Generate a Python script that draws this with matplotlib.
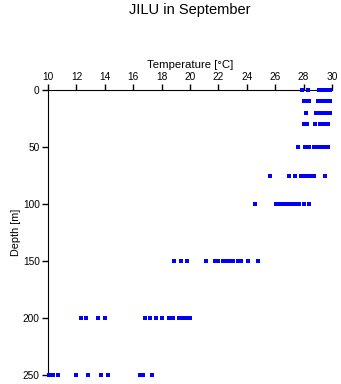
import matplotlib.pyplot as plt

plt.rcParams['font.family'] = ['Liberation Sans', 'DejaVu Sans']

# temperature readings [degC] at each sampled depth [m]
t_0 = [27.9, 28.3, 29.1, 29.3, 29.45, 29.6, 29.75, 29.85]
t_10 = [28.0, 28.2, 28.4, 29.0, 29.2, 29.4, 29.6, 29.85]
t_20 = [28.2, 28.9, 29.1, 29.3, 29.5, 29.7, 29.85]
t_30 = [28.0, 28.25, 28.8, 29.15, 29.4, 29.6, 29.75]
t_50 = [27.6, 28.1, 28.4, 28.75, 28.95, 29.15, 29.35, 29.55, 29.75]
t_75 = [25.6, 27.0, 27.4, 27.85, 28.05, 28.25, 28.55, 28.75, 29.5]
t_100 = [24.6, 26.05, 26.25, 26.5, 26.7, 26.9, 27.15, 27.4, 27.7, 28.0,
         28.4]
t_150 = [18.9, 19.4, 19.8, 21.1, 21.75, 22.0, 22.3, 22.55, 22.8, 23.05,
         23.35, 23.6, 24.1, 24.8]
t_200 = [12.3, 12.7, 13.5, 14.0, 16.8, 17.2, 17.6, 18.0, 18.5, 18.8, 19.2,
         19.45, 19.75, 20.0]
t_250 = [10.1, 10.35, 10.7, 12.0, 12.8, 13.7, 14.2, 16.5, 16.7, 17.3]

depths = [0, 10, 20, 30, 50, 75, 100, 150, 200, 250]
temps = [t_0, t_10, t_20, t_30, t_50, t_75, t_100, t_150, t_200, t_250]

fig = plt.figure(figsize=(3.41, 3.84), dpi=100)
ax = fig.add_axes([0.1408, 0.0234, 0.8328, 0.7422])

for d, tl in zip(depths, temps):
    ax.plot(tl, [d] * len(tl), 's', color='#0000ff', markersize=2.3,
            markeredgewidth=0, clip_on=False, antialiased=False, zorder=3)

ax.set_xlim(10, 30)
ax.set_ylim(250, 0)
ax.set_xticks(range(10, 31, 2))
ax.set_yticks(range(0, 251, 50))

ax.xaxis.tick_top()
ax.xaxis.set_label_position('top')
ax.spines['right'].set_visible(False)
ax.spines['bottom'].set_visible(False)
ax.tick_params(axis='both', labelsize=7.3, length=4, width=1, pad=2)

ax.set_xlabel('Temperature [°C]', fontsize=8.2, labelpad=3)
ax.set_ylabel('Depth [m]', fontsize=7.8, labelpad=1)

fig.suptitle('JILU in September', fontsize=10.5, x=0.557, y=0.992)

fig.savefig('out.png', dpi=100)
